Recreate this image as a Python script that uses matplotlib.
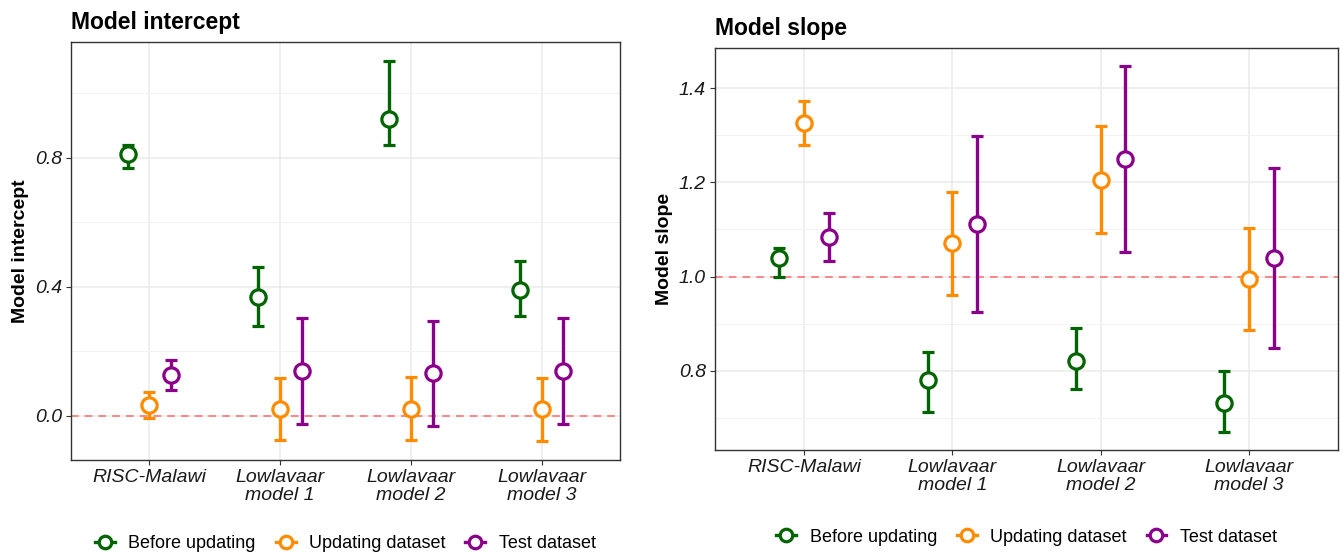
import numpy as np
import matplotlib
matplotlib.use("Agg")
import matplotlib.pyplot as plt
from matplotlib.lines import Line2D
from matplotlib.ticker import MultipleLocator

plt.rcParams['font.family'] = ['Liberation Sans', 'DejaVu Sans']

models = ["RISC-Malawi", "Lowlavaar\nmodel 1", "Lowlavaar\nmodel 2", "Lowlavaar\nmodel 3"]
groups = ["Before updating", "Updating dataset", "Test dataset"]
colors = ["#006400", "#FF8C00", "#8B008B"]

# intercept estimates and 95% CI, one list per group, in model order
icpt_before = [0.81, 0.367, 0.918, 0.391]
icpt_before_lo = [0.767, 0.279, 0.838, 0.308]
icpt_before_hi = [0.84, 0.46, 1.099, 0.48]
icpt_update = [0.035, 0.02, 0.022, 0.02]
icpt_update_lo = [-0.006, -0.076, -0.075, -0.078]
icpt_update_hi = [0.074, 0.118, 0.12, 0.118]
icpt_test = [0.125, 0.139, 0.132, 0.138]
icpt_test_lo = [0.079, -0.024, -0.032, -0.024]
icpt_test_hi = [0.172, 0.303, 0.295, 0.303]

# slope estimates and 95% CI
slope_before = [1.04, 0.781, 0.821, 0.732]
slope_before_lo = [0.999, 0.712, 0.761, 0.670]
slope_before_hi = [1.06, 0.84, 0.891, 0.80]
slope_update = [1.327, 1.071, 1.206, 0.995]
slope_update_lo = [1.279, 0.961, 1.093, 0.887]
slope_update_hi = [1.374, 1.18, 1.321, 1.104]
slope_test = [1.083, 1.111, 1.249, 1.039]
slope_test_lo = [1.033, 0.924, 1.052, 0.848]
slope_test_hi = [1.134, 1.299, 1.447, 1.230]

icpt = [(icpt_before, icpt_before_lo, icpt_before_hi),
        (icpt_update, icpt_update_lo, icpt_update_hi),
        (icpt_test, icpt_test_lo, icpt_test_hi)]
slope = [(slope_before, slope_before_lo, slope_before_hi),
         (slope_update, slope_update_lo, slope_update_hi),
         (slope_test, slope_test_lo, slope_test_hi)]

W, H = 1343, 553
fig = plt.figure(figsize=(W / 100, H / 100), dpi=100)
ax1 = fig.add_axes([71 / W, 1 - 460 / H, (620 - 71) / W, (460 - 42) / H])
ax2 = fig.add_axes([715 / W, 1 - 450 / H, (1338 - 715) / W, (450 - 48) / H])

offsets = [-1 / 6, 0, 1 / 6]
x = np.arange(len(models))


def panel(ax, data, ref, title, ylabel, major, minor, legend_y):
    ax.axhline(ref, color="#FF6B6B", ls=(0, (5, 4)), lw=1.1, zorder=1)
    for (est, lo, hi), col, off in zip(data, colors, offsets):
        est = np.array(est)
        err = [est - np.array(lo), np.array(hi) - est]
        ax.errorbar(x + off, est, yerr=err, fmt="o", color=col, ecolor=col,
                    elinewidth=2.4, capsize=4, capthick=2.4,
                    markersize=11, markerfacecolor="white",
                    markeredgewidth=2.3, markeredgecolor=col, zorder=3)
    allv = np.concatenate([np.r_[lo, hi] for _, lo, hi in data])
    pad = (allv.max() - allv.min()) * 0.05
    ax.set_ylim(allv.min() - pad, allv.max() + pad)
    ax.set_xlim(-0.6, len(models) - 0.4)
    ax.set_xticks(x)
    ax.set_xticklabels(models, style="italic", fontsize=14, color="#1a1a1a",
                       linespacing=1.1)
    ax.yaxis.set_major_locator(MultipleLocator(major))
    ax.yaxis.set_minor_locator(MultipleLocator(minor))
    ax.yaxis.set_major_formatter(matplotlib.ticker.FormatStrFormatter("%.1f"))
    for lab in ax.get_yticklabels():
        lab.set_fontstyle("italic")
        lab.set_fontsize(14)
        lab.set_color("#1a1a1a")
    ax.grid(which="major", color="#EBEBEB", lw=1.1, zorder=0)
    ax.grid(which="minor", axis="y", color="#F2F2F2", lw=0.7, zorder=0)
    ax.set_axisbelow(True)
    ax.tick_params(which="minor", length=0)
    ax.tick_params(which="major", length=3.5, color="#333333", width=0.8, pad=3)
    for s in ax.spines.values():
        s.set_color("#333333")
        s.set_linewidth(1.0)
    ax.set_ylabel(ylabel, fontsize=14, fontweight="bold", labelpad=4)
    ax.set_title(title, loc="left", fontsize=16.5, fontweight="bold", pad=9, x=0.0)
    handles = [Line2D([0], [0], color=c, lw=2.4, marker="o", markersize=9,
                      markerfacecolor="white", markeredgewidth=2.3)
               for c in colors]
    pos = ax.get_position()
    fig.legend(handles, groups, loc="center", ncol=3, frameon=False,
               bbox_to_anchor=((pos.x0 + pos.x1) / 2, legend_y),
               fontsize=13, handlelength=1.1, handletextpad=0.75, columnspacing=1.1)


panel(ax1, icpt, 0.0, "Model intercept", "Model intercept", 0.4, 0.2, 1 - 544 / H)
panel(ax2, slope, 1.0, "Model slope", "Model slope", 0.2, 0.1, 1 - 537 / H)

fig.savefig("out.png", dpi=100)
